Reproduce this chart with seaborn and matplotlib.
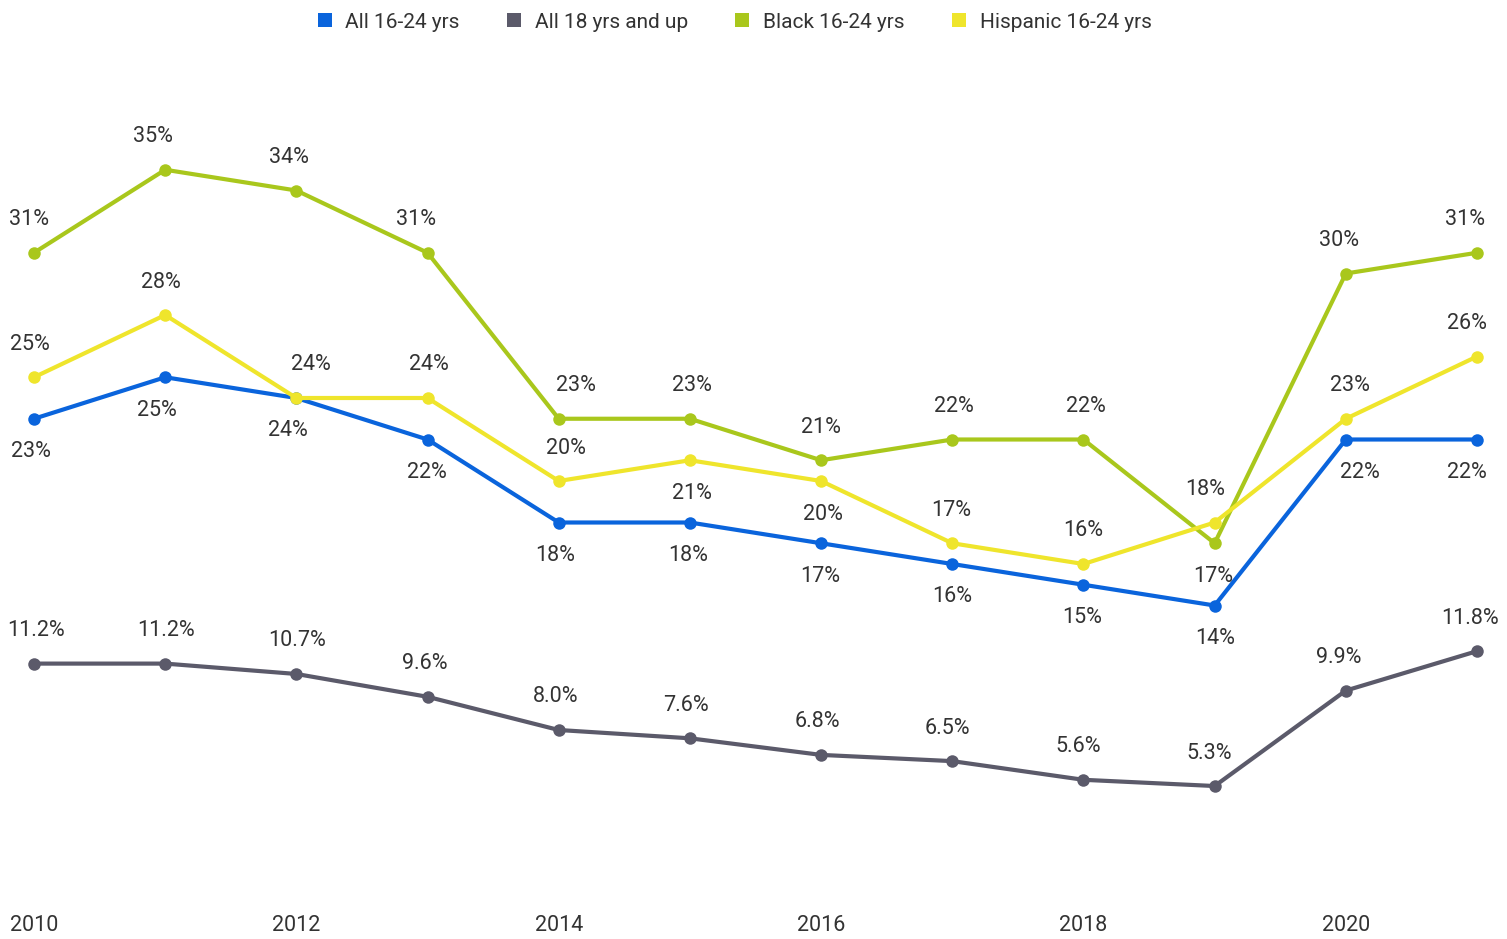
import matplotlib
matplotlib.use("Agg")
import matplotlib.pyplot as plt
from matplotlib.lines import Line2D
import seaborn as sns
import pandas as pd

years = list(range(2010, 2022))
all_16_24 = [23, 25, 24, 22, 18, 18, 17, 16, 15, 14, 22, 22]
all_18_up = [11.2, 11.2, 10.7, 9.6, 8.0, 7.6, 6.8, 6.5, 5.6, 5.3, 9.9, 11.8]
black_16_24 = [31, 35, 34, 31, 23, 23, 21, 22, 22, 17, 30, 31]
hispanic_16_24 = [25, 28, 24, 24, 20, 21, 20, 17, 16, 18, 23, 26]

series_names = ["All 16-24 yrs", "All 18 yrs and up", "Black 16-24 yrs", "Hispanic 16-24 yrs"]
series_values = [all_16_24, all_18_up, black_16_24, hispanic_16_24]
label_formats = ["{:.0f}%", "{:.1f}%", "{:.0f}%", "{:.0f}%"]
# label side: 1 = above, -1 = below
label_sides = [
    [-1] * 12,
    [1] * 12,
    [1, 1, 1, 1, 1, 1, 1, 1, 1, -1, 1, 1],
    [1, 1, 1, 1, 1, -1, -1, 1, 1, 1, 1, 1],
]
# horizontal nudge of labels, pixels
label_dx = [
    [-3, -8, -8, -1, -4, -2, -1, 0, -1, 0, 14, -10],
    [2, 1, 1, -3, -3, -4, -4, -5, -5, -5, -7, -7],
    [-5, -12, -7, -12, 17, 2, 0, 2, 2, -1, -7, -12],
    [-4, -4, 15, 1, 7, 2, 2, -1, 0, -10, 4, -10],
]
colors = ["#0a64dc", "#5b5a6a", "#a9c71c", "#efe52c"]
xtick_years = [2010, 2012, 2014, 2016, 2018, 2020]

rows = []
for name, vals in zip(series_names, series_values):
    for y, v in zip(years, vals):
        rows.append({"year": y, "value": v, "series": name})
df = pd.DataFrame(rows)

sns.set_style("white")
plt.rcParams["font.family"] = ["Roboto", "DejaVu Sans"]

W, H = 1507, 939
fig = plt.figure(figsize=(W / 100, H / 100), dpi=100)
ax = fig.add_axes([0, 43 / H, 1, 1 - 43 / H])

sns.lineplot(data=df, x="year", y="value", hue="series", hue_order=series_names,
             palette=colors, marker="o", markersize=9, markeredgewidth=0,
             linewidth=3, ax=ax, legend=False)

pxpy = 1443 / 11
ax.set_xlim(2010 - 34 / pxpy, 2021 + 30 / pxpy)
ppp = 20.75
ax.set_ylim(0, 896 / ppp)

for vals, fmt, sides, dxs in zip(series_values, label_formats, label_sides, label_dx):
    for y, v, s, dx in zip(years, vals, sides, dxs):
        ax.annotate(fmt.format(v), (y, v), xytext=(dx * 0.72, 33 * s * 0.72),
                    textcoords="offset points",
                    ha="center", va="center", fontsize=15.5, color="#333333")

for sp in ax.spines.values():
    sp.set_visible(False)
ax.set_yticks([])
ax.set_xticks(xtick_years)
ax.set_xticklabels([str(y) for y in xtick_years], fontsize=15.5, color="#333333")
ax.tick_params(axis="x", length=0, pad=14)
ax.set_xlabel("")
ax.set_ylabel("")

handles = [Line2D([], [], marker="s", linestyle="none", markersize=10, color=c, markeredgewidth=0)
           for c in colors]
fig.legend(handles, series_names, loc="center", bbox_to_anchor=(0.487, 1 - 22 / H), ncol=4,
           frameon=False, fontsize=15, handlelength=0.8, handletextpad=0.6, columnspacing=2.2,
           labelcolor="#333333")

fig.savefig("out.png", dpi=100)
